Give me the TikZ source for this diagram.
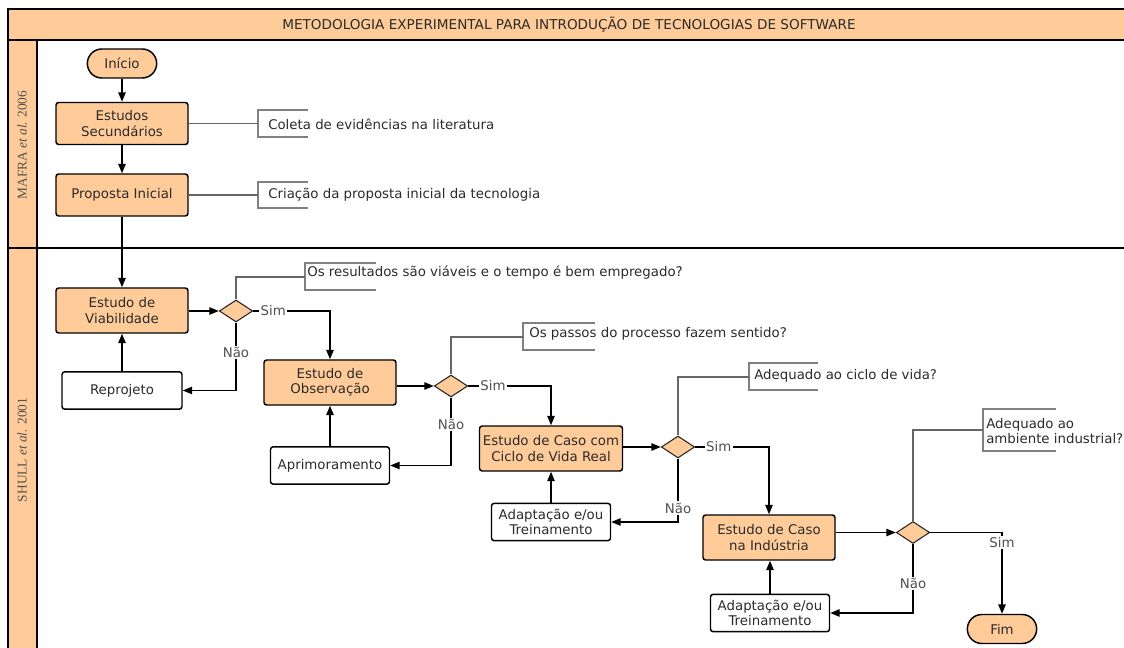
\documentclass[tikz,border=0pt]{standalone}
\usepackage{fontspec}
\setmainfont{DejaVu Sans}
\newfontfamily\lanefont{Liberation Serif}
\usetikzlibrary{shapes.geometric,shapes.misc,arrows.meta}
\definecolor{peach}{HTML}{FFCC99}
\definecolor{txt}{HTML}{2B2B2B}
\definecolor{lbltxt}{HTML}{505050}
\definecolor{notegray}{HTML}{808080}
\definecolor{lanetxt}{HTML}{505050}

\begin{document}
\begin{tikzpicture}[x=0.75pt,y=-0.75pt,
  every node/.style={font=\fontsize{10}{11.5}\selectfont, text=txt},
  frameline/.style={draw=black, line width=1.2pt},
  flow/.style={draw=black, line width=1.1pt, rounded corners=2pt, fill=peach,
    align=center, inner sep=1pt, minimum width=99pt, minimum height=33.75pt},
  plainbox/.style={flow, fill=white, minimum width=89.25pt, minimum height=28pt},
  term/.style={rounded rectangle, draw=black, line width=1.1pt, fill=peach,
    minimum width=54pt, minimum height=21.75pt, inner sep=1pt},
  decision/.style={diamond, draw=black!85, line width=0.8pt, fill=peach,
    inner sep=0pt, minimum width=25pt, minimum height=16.5pt},
  arr/.style={-{Triangle[length=7pt,width=5.5pt]}, line width=1pt, draw=black},
  lbl/.style={fill=white, text=lbltxt, inner sep=1pt},
  noteline/.style={draw=notegray!80!black, line width=0.8pt},
  bracket/.style={draw=notegray, line width=0.8pt},
  notetxt/.style={anchor=west, align=left, inner sep=0pt},
  lanelabel/.style={rotate=90, text=lanetxt, font=\lanefont\fontsize{10}{12}\selectfont}
]
\useasboundingbox (0,0) rectangle (1124,648);

% pool and lanes
\begin{scope}
  \clip (0,0) rectangle (1124,648);
  \fill[peach] (8,9) rectangle (1140,40);
  \fill[peach] (8,40) rectangle (37,670);
  \draw[frameline] (8,670) |- (1140,9);
  \draw[frameline] (8,40) -- (1140,40);
  \draw[frameline] (37,40) -- (37,670);
  \draw[frameline] (8,248) -- (1140,248);
\end{scope}

\node[font=\fontsize{10.2}{12}\selectfont] (title) at (569,25) {METODOLOGIA EXPERIMENTAL PARA INTRODUÇÃO DE TECNOLOGIAS DE SOFTWARE};
\node[lanelabel] (lane1) at (22,145) {MAFRA \textit{et al.} 2006};
\node[lanelabel] (lane2) at (22,450) {SHULL \textit{et al.} 2001};

% first lane
\node[term] (inicio) at (122,63.5) {Início};
\node[flow, minimum height=31.5pt] (sec) at (122,123.5) {Estudos\\Secundários};
\node[flow, minimum height=31.5pt] (prop) at (122,195) {Proposta Inicial};

\draw[arr] (inicio.south) -- (sec.north);
\draw[arr] (sec.south) -- (prop.north);

% second lane
\node[flow] (viab) at (122,310.5) {Estudo de\\Viabilidade};
\node[decision] (d1) at (236,311) {};
\node[plainbox, minimum width=90pt] (rep) at (122,390.5) {Reprojeto};

\node[flow] (obs) at (330,382.5) {Estudo de\\Observação};
\node[decision] (d2) at (451,386) {};
\node[plainbox] (aprim) at (330,465.5) {Aprimoramento};

\node[flow, minimum width=107.25pt] (caso) at (551,448.5) {Estudo de Caso com\\Ciclo de Vida Real};
\node[decision] (d3) at (678,447) {};
\node[plainbox] (adap1) at (551,522) {Adaptação e/ou\\Treinamento};

\node[flow] (ind) at (769,537.5) {Estudo de Caso\\na Indústria};
\node[decision] (d4) at (913,532.5) {};
\node[plainbox] (adap2) at (770,613) {Adaptação e/ou\\Treinamento};

\node[term] (fim) at (1002,629) {Fim};

% flow connectors
\draw[arr] (prop.south) -- (viab.north);
\draw[arr] (viab.east |- d1.west) -- (d1.west);
\draw[arr] (d1.east) -| node[lbl, pos=0.13] {Sim} (obs.north);
\draw[arr] (d1.south) |- node[lbl, pos=0.22] {Não} (rep.east);
\draw[arr] (rep.north) -- (viab.south);

\draw[arr] (obs.east |- d2.west) -- (d2.west);
\draw[arr] (d2.east) -| node[lbl, pos=0.15] {Sim} (caso.north);
\draw[arr] (d2.south) |- node[lbl, pos=0.2] {Não} (aprim.east);
\draw[arr] (aprim.north) -- (obs.south);

\draw[arr] (caso.east |- d3.west) -- (d3.west);
\draw[arr] (d3.east) -| node[lbl, pos=0.16] {Sim} (ind.north);
\draw[arr] (d3.south) |- node[lbl, pos=0.39] {Não} (adap1.east);
\draw[arr] (adap1.north) -- (caso.south);

\draw[arr] (ind.east |- d4.west) -- (d4.west);
\draw[arr] (d4.east) -| node[lbl, pos=0.56] {Sim} (fim.north);
\draw[arr] (d4.south) |- node[lbl, pos=0.285] {Não} (adap2.east);
\draw[arr] (adap2.north) -- (adap2.north |- ind.south);

% annotations
\coordinate (b1) at (258,123.5);
\draw[bracket] (308,110) -| (258,137) -- (308,137);
\draw[noteline] (sec.east) -- (b1);
\node[notetxt] (n1) at (268,124) {Coleta de evidências na literatura};

\coordinate (b2) at (258,195);
\draw[bracket] (308,182) -| (258,208) -- (308,208);
\draw[noteline] (prop.east) -- (b2);
\node[notetxt] (n2) at (268,195) {Criação da proposta inicial da tecnologia};

\coordinate (b3) at (305,277);
\draw[bracket] (376,263) -| (305,290) -- (376,290);
\draw[noteline] (d1.north) |- (b3);
\node[notetxt] (n3) at (307,273) {Os resultados são viáveis e o tempo é bem empregado?};

\coordinate (b4) at (523,337);
\draw[bracket] (595,323) -| (523,350) -- (595,350);
\draw[noteline] (d2.north) |- (b4);
\node[notetxt] (n4) at (529,334) {Os passos do processo fazem sentido?};

\coordinate (b5) at (749,377);
\draw[bracket] (818,363) -| (749,390) -- (818,390);
\draw[noteline] (d3.north) |- (b5);
\node[notetxt] (n5) at (754,376) {Adequado ao ciclo de vida?};

\coordinate (b6) at (983,430);
\draw[bracket] (1056,409) -| (983,451) -- (1056,451);
\draw[noteline] (d4.north) |- (b6);
\node[notetxt] (n6) at (986,431) {Adequado ao\\ambiente industrial?};
\end{tikzpicture}
\end{document}
